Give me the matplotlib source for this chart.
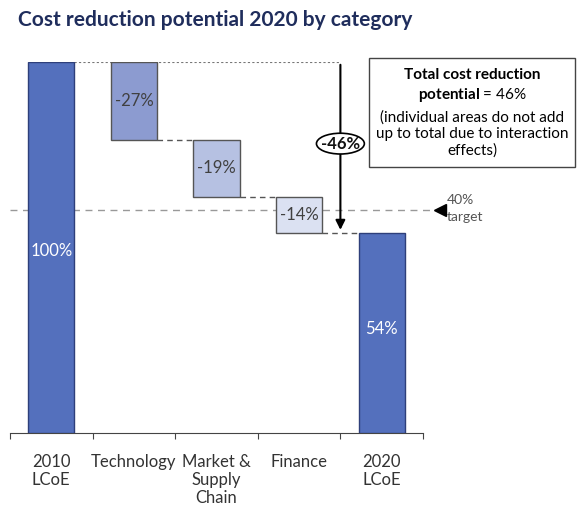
import matplotlib
matplotlib.use("Agg")
import matplotlib.pyplot as plt
from matplotlib.patches import Ellipse, Rectangle

plt.rcParams['font.family'] = ['Lato', 'DejaVu Sans']
plt.rcParams['mathtext.fontset'] = 'custom'
plt.rcParams['mathtext.bf'] = 'Lato:bold'
plt.rcParams['mathtext.rm'] = 'Lato'

# data
categories = ["2010\nLCoE", "Technology", "Market &\nSupply\nChain", "Finance", "2020\nLCoE"]
bar_labels = ["100%", "-27%", "-19%", "-14%", "54%"]
# drawn heights (steps are drawn scaled so they sum to the 46% total)
heights = [100, 21, 15.3, 9.7, 54]
bar_colors = ["#5470bd", "#8c9bd0", "#b6c1e2", "#dbe1f2", "#5470bd"]
label_colors = ["white", "#404040", "#404040", "#404040", "white"]
target_level = 60
total_reduction = "-46%"

fig = plt.figure(figsize=(5.77, 5.08), dpi=100)
ax = fig.add_axes([10 / 577, 1 - 433 / 508, 413 / 577, (433 - 62) / 508])

x = range(len(categories))
bottoms = []
level = heights[0]
for i, h in enumerate(heights):
    if i == 0 or i == len(heights) - 1:
        bottoms.append(0)
    else:
        level -= h
        bottoms.append(level)

edges = ["#2e3f7a", "#555555", "#555555", "#555555", "#2e3f7a"]
ax.bar(x, heights, bottom=bottoms, width=0.56, color=bar_colors,
       edgecolor=edges, linewidth=1, zorder=3)

# labels inside bars
ax.text(0, 49, bar_labels[0], ha='center', va='center', color=label_colors[0], fontsize=12, zorder=4)
for i in (1, 2, 3):
    ax.text(i, bottoms[i] + heights[i] / 2, bar_labels[i], ha='center', va='center',
            color=label_colors[i], fontsize=12, zorder=4)
ax.text(4, 28, bar_labels[4], ha='center', va='center', color=label_colors[4], fontsize=12, zorder=4)

# connectors
ax.plot([0.28, 3.5], [100, 100], ls=(0, (2, 2)), color="#777777", lw=0.8, zorder=2)
for i in (1, 2, 3):
    ax.plot([i + 0.28, i + 0.72], [bottoms[i], bottoms[i]], ls=(0, (4, 3)),
            color="#555555", lw=1, zorder=2)

# target line
ax.plot([-0.5, 4.58], [target_level, target_level], ls=(0, (5, 4)), color="#999999",
        lw=1, zorder=1, clip_on=False)
ax.plot([4.7], [target_level], marker='<', color='black', ms=8, clip_on=False)
ax.text(4.79, target_level + 0.5, "40%\ntarget", ha='left', va='center', fontsize=10,
        color="#555555", linespacing=1.45)

# total arrow
ax.annotate("", xy=(3.5, heights[-1]), xytext=(3.5, 100),
            arrowprops=dict(arrowstyle='-|>', color='black', lw=1.5, mutation_scale=14),
            zorder=5)
ax.add_patch(Ellipse((3.5, 78), 0.58, 5.6, facecolor='white', edgecolor='black', lw=1.2, zorder=6))
ax.text(3.5, 78, total_reduction, ha='center', va='center', fontsize=12, fontweight='bold',
        color='#111111', zorder=7)

ax.set_xlim(-0.5, 4.5)
ax.set_ylim(0, 100)
ax.set_xticks([-0.5, 0.5, 1.5, 2.5, 3.5, 4.5])
ax.set_xticklabels([])
ax.set_xticks(list(x), minor=True)
ax.set_xticklabels(categories, minor=True, fontsize=12, color="#333333", linespacing=1.15)
ax.tick_params(axis='x', which='major', direction='out', length=4, color="#444444")
ax.tick_params(axis='x', which='minor', length=0, pad=15)
ax.set_yticks([])
for s in ("top", "right", "left"):
    ax.spines[s].set_visible(False)
ax.spines["bottom"].set_color("#444444")

# info box
fig.patches.append(Rectangle((369 / 577, 1 - 167 / 508), 206 / 577, 109 / 508,
                             transform=fig.transFigure, facecolor='white',
                             edgecolor='#444444', lw=1))
bx = 472 / 577
fig.text(bx, 1 - 75 / 508, "Total cost reduction", ha='center', va='center',
         fontsize=11, fontweight='bold', color='black')
fig.text(bx, 1 - 95 / 508, r"$\bf{potential}$ = 46%", ha='center', va='center',
         fontsize=11, color='black')
fig.text(bx, 1 - 134 / 508, "(individual areas do not add\nup to total due to interaction\neffects)",
         ha='center', va='center', fontsize=11, color='black', linespacing=1.22)

fig.text(18 / 577, 1 - 20 / 508, "Cost reduction potential 2020 by category",
         ha='left', va='center', fontsize=15, fontweight='bold', color="#1f2d5c")

fig.savefig("out.png", dpi=100)
